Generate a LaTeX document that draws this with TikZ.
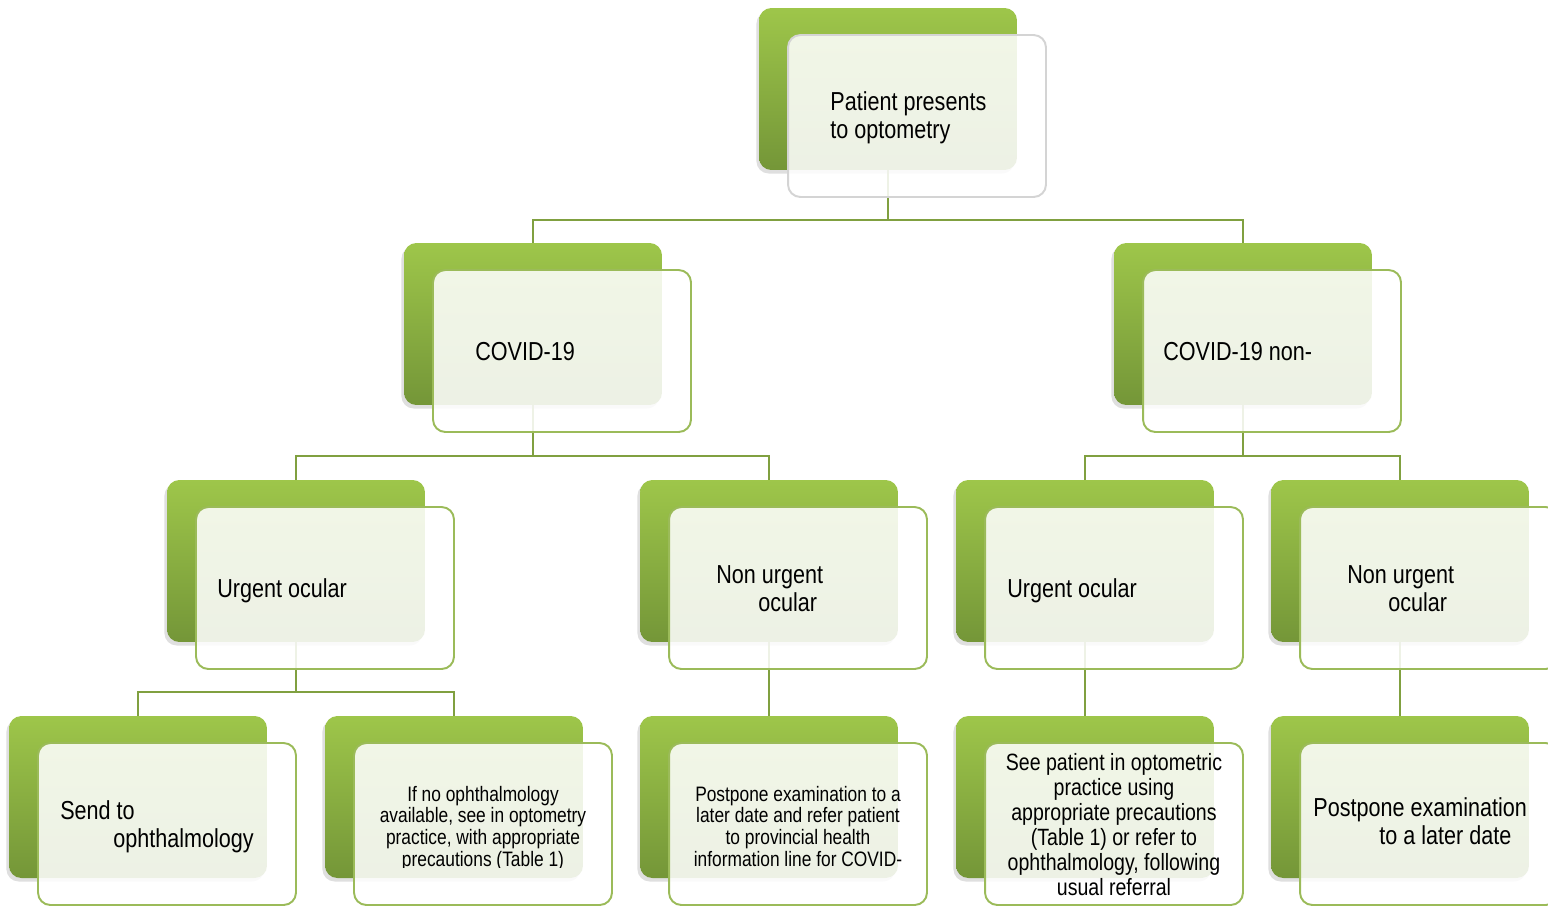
\documentclass[tikz,border=0pt]{standalone}
\usepackage{fontspec}
\setmainfont{Liberation Sans}[FakeStretch=0.83]
\usepackage{xcolor}
\usepackage{tikz}
\usetikzlibrary{shadows, backgrounds}
\definecolor{backtop}{RGB}{158,198,74}
\definecolor{backbot}{RGB}{116,150,56}
\definecolor{edgegreen}{RGB}{155,187,89}
\definecolor{edgegray}{RGB}{212,212,212}
\definecolor{linkgreen}{RGB}{128,160,64}
\newcommand{\bigtext}{\fontsize{14.8pt}{15.4pt}\selectfont}
\newcommand{\midtext}{\fontsize{13.4pt}{14.2pt}\selectfont}
\newcommand{\smalltext}{\fontsize{11.9pt}{12.3pt}\selectfont}
\tikzset{
  backbox/.style={rectangle, rounded corners=7pt, minimum width=5.16cm, minimum height=3.24cm, top color=backtop, bottom color=backbot, draw=none, drop shadow={shadow xshift=-1.5pt, shadow yshift=-2pt, opacity=0.25}},
  frontbox/.style={rectangle, rounded corners=7pt, minimum width=5.16cm, minimum height=3.24cm, draw=edgegreen, line width=1.1pt, fill=white, fill opacity=0.87},
  cardtext/.style={inner sep=0pt, font=\bigtext},
  link/.style={draw=linkgreen, line width=1.2pt},
}

\begin{document}
\begin{tikzpicture}[x=0.02cm, y=-0.02cm]
  \useasboundingbox (0,0) rectangle (1548,907);

  % Level 1
  \node[backbox] (top) at (888,89) {};
  \node[frontbox, draw=edgegray] (topf) at ([shift={(29,27)}]top.center) {};

  % Level 2
  \node[backbox] (cov) at (533,324) {};
  \node[frontbox] (covf) at ([shift={(29,27)}]cov.center) {};
  \node[backbox] (noncov) at (1243,324) {};
  \node[frontbox] (noncovf) at ([shift={(29,27)}]noncov.center) {};

  % Level 3
  \node[backbox] (urgA) at (296,561) {};
  \node[frontbox] (urgAf) at ([shift={(29,27)}]urgA.center) {};
  \node[backbox] (nonA) at (769,561) {};
  \node[frontbox] (nonAf) at ([shift={(29,27)}]nonA.center) {};
  \node[backbox] (urgB) at (1085,561) {};
  \node[frontbox] (urgBf) at ([shift={(29,27)}]urgB.center) {};
  \node[backbox] (nonB) at (1400,561) {};
  \node[frontbox] (nonBf) at ([shift={(29,27)}]nonB.center) {};

  % Level 4
  \node[backbox] (send) at (138,797) {};
  \node[frontbox] (sendf) at ([shift={(29,27)}]send.center) {};
  \node[backbox] (seeopt) at (454,797) {};
  \node[frontbox] (seeoptf) at ([shift={(29,27)}]seeopt.center) {};
  \node[backbox] (postA) at (769,797) {};
  \node[frontbox] (postAf) at ([shift={(29,27)}]postA.center) {};
  \node[backbox] (seepat) at (1085,797) {};
  \node[frontbox] (seepatf) at ([shift={(29,27)}]seepat.center) {};
  \node[backbox] (postB) at (1400,797) {};
  \node[frontbox] (postBf) at ([shift={(29,27)}]postB.center) {};

  % Texts (base = last line)
  \node[cardtext, anchor=base west, align=left] (topt) at (830,138) {Patient presents\\to optometry};
  \node[cardtext, anchor=base west] (covt) at (475,360) {COVID-19};
  \node[cardtext, anchor=base west] (noncovt) at (1163,360) {COVID-19 non-};
  \node[cardtext, anchor=base west] (urgAt) at (217,597) {Urgent ocular};
  \node[cardtext, anchor=base west, align=left] (nonAt) at (716,611) {Non urgent\\\hspace*{0.84cm}ocular};
  \node[cardtext, anchor=base west] (urgBt) at (1007,597) {Urgent ocular};
  \node[cardtext, anchor=base west, align=left] (nonBt) at (1347,611) {Non urgent\\\hspace*{0.82cm}ocular};
  \begin{scope}
    \clip (39,744) rectangle (297,852);
    \node[cardtext, anchor=base west, align=left] (sendt) at (60,847) {Send to\\\hspace*{1.06cm}ophthalmology};
  \end{scope}
  \begin{scope}
    \clip (354,744) rectangle (612,867);
    \node[cardtext, font=\smalltext, anchor=base, align=center] (seeoptt) at (483,866) {If no ophthalmology\\available, see in optometry\\practice, with appropriate\\precautions (Table 1)};
  \end{scope}
  \begin{scope}
    \clip (669,744) rectangle (927,868);
    \node[cardtext, font=\smalltext, anchor=base, align=center] (postAt) at (798,866) {Postpone examination to a\\later date and refer patient\\to provincial health\\information line for COVID-};
  \end{scope}
  \begin{scope}
    \clip (985,744) rectangle (1243,897);
    \node[cardtext, font=\midtext, anchor=base, align=center] (seepatt) at (1114,895) {See patient in optometric\\practice using\\appropriate precautions\\(Table 1) or refer to\\ophthalmology, following\\usual referral};
  \end{scope}
  \node[cardtext, anchor=base west, align=left] (postBt) at (1313,844) {Postpone examination\\\hspace*{1.32cm}to a later date};

  % Connectors
  \begin{scope}[on background layer]
    \draw[link] (top.south) -- ++(0,50) coordinate (j1) -| (cov.north);
    \draw[link] (j1) -| (noncov.north);
    \draw[link] (cov.south) -- ++(0,51) coordinate (j2) -| (urgA.north);
    \draw[link] (j2) -| (nonA.north);
    \draw[link] (noncov.south) -- ++(0,51) coordinate (j3) -| (urgB.north);
    \draw[link] (j3) -| (nonB.north);
    \draw[link] (urgA.south) -- ++(0,50) coordinate (j4) -| (send.north);
    \draw[link] (j4) -| (seeopt.north);
    \draw[link] (nonA.south) -- (postA.north);
    \draw[link] (urgB.south) -- (seepat.north);
    \draw[link] (nonB.south) -- (postB.north);
  \end{scope}
\end{tikzpicture}
\end{document}
